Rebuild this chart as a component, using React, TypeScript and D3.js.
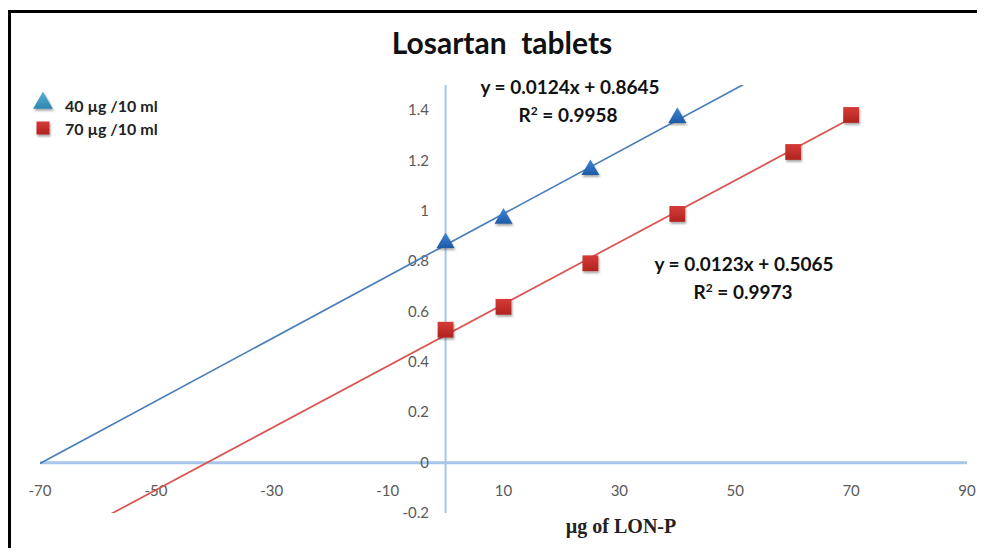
import React from "react";
import * as d3 from "d3";

const title = "Losartan  tablets";
const xLabel = "µg of LON-P";
const xTicks = [-70, -50, -30, -10, 10, 30, 50, 70, 90];
const yTicks = [-0.2, 0, 0.2, 0.4, 0.6, 0.8, 1, 1.2, 1.4];

const seriesNames = ["40 µg /10 ml", "70 µg /10 ml"];
const blueX = [0, 10, 25, 40];
const blueY = [0.873, 0.97, 1.163, 1.37];
const redX = [0, 10, 25, 40, 60, 70];
const redY = [0.528, 0.619, 0.792, 0.988, 1.234, 1.381];

const blueFit = { slope: 0.0124, intercept: 0.8645, r2: "0.9958", from: -70, to: 60 };
const redFit = { slope: 0.0123, intercept: 0.5065, r2: "0.9973", from: -70, to: 70 };

const W = 985;
const H = 556;

export default function App() {
  const x = d3.scaleLinear().domain([-70, 90]).range([40, 967]);
  const y = d3.scaleLinear().domain([-0.2, 1.5]).range([513, 85]);
  const font = "Lato, 'Open Sans', sans-serif";

  const trend = (f: typeof blueFit) => {
    const pts: [number, number][] = [
      [x(f.from), y(f.slope * f.from + f.intercept)],
      [x(f.to), y(f.slope * f.to + f.intercept)],
    ];
    return d3.line()(pts) || "";
  };

  const tri = d3.symbol().type(d3.symbolTriangle).size(140)() || "";
  const sq = d3.symbol().type(d3.symbolSquare).size(250)() || "";
  const sqSmall = d3.symbol().type(d3.symbolSquare).size(170)() || "";

  const fmt = (v: number) => (Math.abs(v) < 1e-9 ? "0" : String(+v.toFixed(1)));

  return (
    <div style={{ margin: -8 }}>
      <svg width={W} height={H} style={{ display: "block", background: "#fff" }}>
        <defs>
          <clipPath id="plot">
            <rect x={x(-70)} y={y(1.5)} width={x(90) - x(-70)} height={y(-0.2) - y(1.5)} />
          </clipPath>
          <linearGradient id="gBlue" x1="0" y1="0" x2="0" y2="1">
            <stop offset="0" stopColor="#3d86d6" />
            <stop offset="1" stopColor="#1f5aa6" />
          </linearGradient>
          <linearGradient id="gLegBlue" x1="0" y1="0" x2="0" y2="1">
            <stop offset="0" stopColor="#5cb3d6" />
            <stop offset="1" stopColor="#2b86b0" />
          </linearGradient>
          <linearGradient id="gRed" x1="0" y1="0" x2="0" y2="1">
            <stop offset="0" stopColor="#d63b38" />
            <stop offset="1" stopColor="#b0231f" />
          </linearGradient>
          <filter id="shadow" x="-50%" y="-50%" width="200%" height="200%">
            <feDropShadow dx="1" dy="2" stdDeviation="1.2" floodColor="#000" floodOpacity="0.35" />
          </filter>
        </defs>

        {/* frame */}
        <line x1={9.5} y1={11.5} x2={W} y2={11.5} stroke="#000" strokeWidth={3} />
        <line x1={9.5} y1={10} x2={9.5} y2={H} stroke="#000" strokeWidth={3} />

        {/* title */}
        <text x={502} y={54} textAnchor="middle" fontFamily={font} fontWeight="bold" fontSize={30} fill="#111" style={{ whiteSpace: "pre" }}>
          {title}
        </text>

        {/* axes */}
        <line x1={x(-70)} y1={y(0)} x2={x(90)} y2={y(0)} stroke="#a7c6ea" strokeWidth={3} />
        <line x1={x(0)} y1={y(1.5)} x2={x(0)} y2={y(-0.2)} stroke="#a7c6ea" strokeWidth={2} />

        {/* y tick labels */}
        {yTicks.map((t) => (
          <text key={"y" + t} x={429} y={y(t) + 5} textAnchor="end" fontFamily={font} fontSize={15} fill="#595959">
            {fmt(t)}
          </text>
        ))}
        {/* x tick labels */}
        {xTicks.map((t) => (
          <text key={"x" + t} x={x(t)} y={y(0) + 33} textAnchor="middle" fontFamily={font} fontSize={15} fill="#595959">
            {t}
          </text>
        ))}

        {/* x axis title */}
        <text x={621} y={533} textAnchor="middle" fontFamily="'Liberation Serif', 'DejaVu Serif', serif" fontWeight="bold" fontSize={20} fill="#222">
          {xLabel}
        </text>

        {/* trendlines */}
        <g clipPath="url(#plot)">
          <path d={trend(blueFit)} stroke="#4a7ebb" strokeWidth={1.7} fill="none" />
          <path d={trend(redFit)} stroke="#d9534f" strokeWidth={1.7} fill="none" />
        </g>

        {/* markers */}
        {redX.map((v, i) => (
          <path key={"r" + i} d={sq} transform={`translate(${x(v)},${y(redY[i])})`} fill="url(#gRed)" filter="url(#shadow)" />
        ))}
        {blueX.map((v, i) => (
          <path key={"b" + i} d={tri} transform={`translate(${x(v)},${y(blueY[i])})`} fill="url(#gBlue)" filter="url(#shadow)" />
        ))}

        {/* equations */}
        <g fontFamily={font} fontWeight="bold" fontSize={19} fill="#111" textAnchor="middle">
          <text x={570} y={94}>{`y = ${blueFit.slope}x + ${blueFit.intercept}`}</text>
          <text x={568} y={122}>
            R<tspan fontSize={12} dy={-7}>2</tspan>
            <tspan dy={7}>{` = ${blueFit.r2}`}</tspan>
          </text>
          <text x={744} y={271}>{`y = ${redFit.slope}x + ${redFit.intercept}`}</text>
          <text x={743} y={299}>
            R<tspan fontSize={12} dy={-7}>2</tspan>
            <tspan dy={7}>{` = ${redFit.r2}`}</tspan>
          </text>
        </g>

        {/* legend */}
        <path d={d3.symbol().type(d3.symbolTriangle).size(170)() || ""} transform="translate(43,103)" fill="url(#gLegBlue)" filter="url(#shadow)" />
        <path d={sqSmall} transform="translate(43,128)" fill="url(#gRed)" filter="url(#shadow)" />
        <text x={65} y={112} fontFamily={font} fontWeight="bold" fontSize={16} fill="#222">{seriesNames[0]}</text>
        <text x={65} y={135} fontFamily={font} fontWeight="bold" fontSize={16} fill="#222">{seriesNames[1]}</text>
      </svg>
    </div>
  );
}
